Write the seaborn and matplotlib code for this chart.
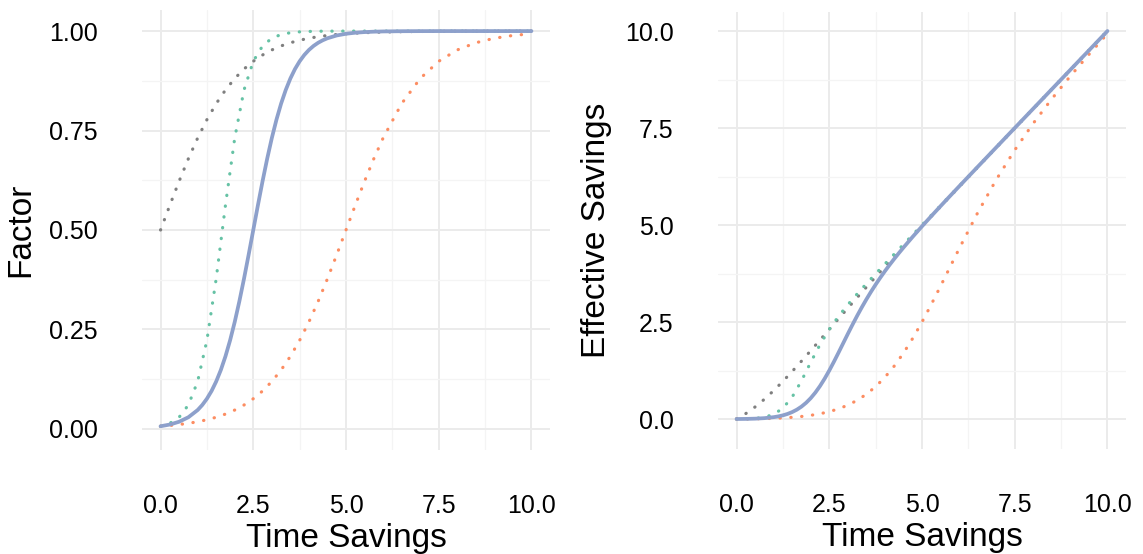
import numpy as np
import matplotlib
matplotlib.use("Agg")
import matplotlib.pyplot as plt
from matplotlib.ticker import FixedLocator, FormatStrFormatter
import seaborn as sns

# time savings grid
time_savings = [0, 0.25, 0.5, 0.75, 1, 1.25, 1.5, 1.75, 2, 2.25, 2.5, 2.75, 3,
                3.25, 3.5, 3.75, 4, 4.25, 4.5, 4.75, 5, 5.25, 5.5, 5.75, 6,
                6.5, 7, 7.5, 8, 8.5, 9, 9.5, 10]
# the solid curve needs a finer grid through its bend
time_savings_fine = [0, 0.25, 0.5, 0.75, 1, 1.125, 1.25, 1.375, 1.5, 1.625, 1.75, 1.875,
                     2, 2.125, 2.25, 2.375, 2.5, 2.625, 2.75, 2.875, 3, 3.125, 3.25,
                     3.375, 3.5, 3.625, 3.75, 3.875, 4, 4.125, 4.25, 4.375, 4.5, 4.75,
                     5, 5.25, 5.5, 5.75, 6, 6.5, 7, 7.5, 8, 8.5, 9, 9.5, 10]

# factor curves (left panel)
factor_grey = [0.5, 0.5622, 0.6225, 0.6792, 0.7311, 0.7773, 0.8176, 0.8519, 0.8808,
               0.9047, 0.9241, 0.9399, 0.9526, 0.9627, 0.9707, 0.9770, 0.9820, 0.9859,
               0.9890, 0.9914, 0.9933, 0.9948, 0.9959, 0.9968, 0.9975,
               0.9985, 0.9991, 0.9994, 0.9997, 0.9998, 0.9999, 0.9999, 1.0]
factor_green = [0.0067, 0.0141, 0.0293, 0.0601, 0.1192, 0.2227, 0.3775, 0.5622, 0.7311,
                0.8519, 0.9241, 0.9627, 0.9820, 0.9914, 0.9959, 0.9981, 0.9991, 0.9996,
                0.9998, 0.9999, 1.0, 1.0, 1.0, 1.0, 1.0,
                1.0, 1.0, 1.0, 1.0, 1.0, 1.0, 1.0, 1.0]
factor_orange = [0.0067, 0.0086, 0.0110, 0.0141, 0.0180, 0.0230, 0.0293, 0.0373, 0.0474,
                 0.0601, 0.0759, 0.0953, 0.1192, 0.1480, 0.1824, 0.2227, 0.2689, 0.3208,
                 0.3775, 0.4378, 0.5, 0.5622, 0.6225, 0.6792, 0.7311,
                 0.8176, 0.8808, 0.9241, 0.9526, 0.9707, 0.9820, 0.9890, 0.9933]
factor_blue = [0.0067, 0.0110, 0.0180, 0.0293, 0.0474, 0.0601, 0.0759, 0.0953, 0.1192,
               0.1480, 0.1824, 0.2227, 0.2689, 0.3208, 0.3775, 0.4378, 0.5, 0.5622,
               0.6225, 0.6792, 0.7311, 0.7773, 0.8176, 0.8519, 0.8808, 0.9047, 0.9241,
               0.9399, 0.9526, 0.9627, 0.9707, 0.9770, 0.9820, 0.9890,
               0.9933, 0.9959, 0.9975, 0.9985, 0.9991, 0.9997, 0.9999, 1.0, 1.0, 1.0,
               1.0, 1.0, 1.0]

# effective savings curves (right panel)
eff_grey = [0, 0.1406, 0.3112, 0.5094, 0.7311, 0.9716, 1.2264, 1.4908, 1.7616,
            2.0356, 2.3103, 2.5847, 2.8578, 3.1288, 3.3975, 3.6638, 3.928, 4.1901,
            4.4505, 4.7092, 4.9665, 5.2227, 5.4775, 5.7316, 5.985,
            6.4903, 6.9937, 7.4955, 7.9976, 8.4983, 8.9991, 9.4991, 10.0]
eff_green = [0, 0.0035, 0.0147, 0.0451, 0.1192, 0.2784, 0.5663, 0.9839, 1.4622,
             1.9168, 2.3103, 2.6474, 2.946, 3.2221, 3.4857, 3.7429, 3.9964, 4.2483,
             4.4991, 4.7495, 5.0, 5.25, 5.5, 5.75, 6.0,
             6.5, 7.0, 7.5, 8.0, 8.5, 9.0, 9.5, 10.0]
eff_orange = [0, 0.0022, 0.0055, 0.0106, 0.018, 0.0288, 0.044, 0.0653, 0.0948,
              0.1352, 0.1898, 0.2621, 0.3576, 0.481, 0.6384, 0.8351, 1.0756, 1.3634,
              1.6988, 2.0796, 2.5, 2.9516, 3.4238, 3.9054, 4.3866,
              5.3144, 6.1656, 6.9308, 7.6208, 8.251, 8.838, 9.3955, 9.933]
eff_blue = [0, 0.0028, 0.009, 0.022, 0.0474, 0.0676, 0.0949, 0.1310, 0.1788,
            0.2405, 0.3192, 0.4176, 0.5378, 0.6817, 0.8494, 1.0398, 1.25, 1.4758,
            1.7119, 1.9527, 2.1933, 2.4291, 2.6572, 2.8752, 3.0828, 3.2795, 3.4654,
            3.6421, 3.8104, 3.9711, 4.1255, 4.2744, 4.419, 4.6978,
            4.9665, 5.2285, 5.4863, 5.7414, 5.9946, 6.498, 6.9993, 7.5, 8.0, 8.5,
            9.0, 9.5, 10.0]

x_ticks = [0, 2.5, 5, 7.5, 10]
x_minor = [1.25, 3.75, 6.25, 8.75]
factor_ticks = [0, 0.25, 0.5, 0.75, 1.0]
factor_minor = [0.125, 0.375, 0.625, 0.875]
eff_ticks = [0, 2.5, 5, 7.5, 10]
eff_minor = [1.25, 3.75, 6.25, 8.75]

grey, green, orange, blue = "#7F7F7F", "#66C2A5", "#FC8D62", "#8DA0CB"

sns.set_theme(style="white")
plt.rcParams['font.family'] = ['Liberation Sans', 'DejaVu Sans']

fig = plt.figure(figsize=(11.43, 5.54), dpi=100)
ax1 = fig.add_axes([142 / 1143, 1 - 450 / 554, 408 / 1143, 440 / 554])
ax2 = fig.add_axes([718 / 1143, 1 - 449 / 554, 408 / 1143, 437 / 554])

dot = dict(linestyle=(0, (0.1, 3.3)), dash_capstyle="round", linewidth=2.3)


def draw(ax, ys, ylabel, yticks, yminor, ylim, yfmt):
    g, gr, o, b = ys
    sns.lineplot(x=time_savings, y=g, ax=ax, color=grey, errorbar=None, **dot)
    sns.lineplot(x=time_savings, y=gr, ax=ax, color=green, errorbar=None, **dot)
    sns.lineplot(x=time_savings, y=o, ax=ax, color=orange, errorbar=None, **dot)
    sns.lineplot(x=time_savings_fine, y=b, ax=ax, color=blue, errorbar=None,
                 linewidth=2.7, solid_joinstyle="round")
    ax.set_xlim(-0.5, 10.5)
    ax.set_ylim(*ylim)
    ax.xaxis.set_major_locator(FixedLocator(x_ticks))
    ax.xaxis.set_minor_locator(FixedLocator(x_minor))
    ax.yaxis.set_major_locator(FixedLocator(yticks))
    ax.yaxis.set_minor_locator(FixedLocator(yminor))
    ax.xaxis.set_major_formatter(FormatStrFormatter("%.1f"))
    ax.yaxis.set_major_formatter(FormatStrFormatter(yfmt))
    ax.grid(which="major", color="#EBEBEB", linewidth=1.4)
    ax.grid(which="minor", color="#F4F4F4", linewidth=0.9)
    ax.set_axisbelow(True)
    for s in ax.spines.values():
        s.set_visible(False)
    ax.tick_params(which="both", length=0, pad=32, labelsize=18, labelcolor="black")
    ax.set_xlabel("Time Savings", fontsize=24, labelpad=3, color="black")
    ax.set_ylabel(ylabel, fontsize=24, labelpad=9, color="black")


draw(ax1, (factor_grey, factor_green, factor_orange, factor_blue), "Factor",
     factor_ticks, factor_minor, (-0.053, 1.053), "%.2f")
draw(ax2, (eff_grey, eff_green, eff_orange, eff_blue), "Effective Savings",
     eff_ticks, eff_minor, (-0.773, 10.49), "%.1f")

fig.savefig("out.png", dpi=100)
